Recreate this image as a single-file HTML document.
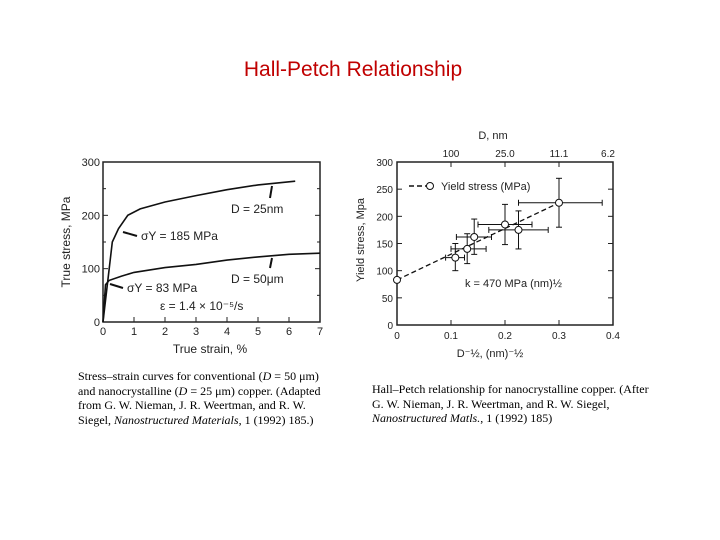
<!DOCTYPE html>
<html><head><meta charset="utf-8"><style>
body{margin:0;width:720px;height:540px;background:#fff;overflow:hidden;position:relative;font-family:"Liberation Sans",sans-serif}
.t{position:absolute;color:#000}
.cap{position:absolute;font-family:"Liberation Serif",serif;font-size:12px;line-height:14.5px;color:#000;white-space:nowrap}
svg{position:absolute;left:0;top:0}
svg text{font-family:"Liberation Sans",sans-serif;fill:#222}
</style></head><body>
<div class="t" style="left:0;width:706px;text-align:center;top:58px;font-size:21px;color:#c00000">Hall-Petch Relationship</div>
<div class="cap" style="left:78px;top:369px">Stress–strain curves for conventional (<i>D</i> = 50 μm)<br>and nanocrystalline (<i>D</i> = 25 μm) copper. (Adapted<br>from G. W. Nieman, J. R. Weertman, and R. W.<br>Siegel, <i>Nanostructured Materials</i>, 1 (1992) 185.)</div>
<div class="cap" style="left:372px;top:382px">Hall–Petch relationship for nanocrystalline copper. (After<br>G. W. Nieman, J. R. Weertman, and R. W. Siegel,<br><i>Nanostructured Matls.</i>, 1 (1992) 185)</div>
<svg width="720" height="540" id="s"></svg>
<script>
// left chart data
const strainTicks=[0,1,2,3,4,5,6,7];
const stressTicks=[0,100,200,300];
const nanoStrain=[0,0.3,0.5,0.8,1.2,2,3,4,5,6.2];
const nanoStress=[0,150,175,200,212,225,237,248,257,264];
const coarseStrain=[0,0.08,0.2,0.6,1,2,3,4,5,6,7];
const coarseStress=[0,70,78,86,93,102,108,116,122,127,129];
// right chart data
const invRootD=[0,0.108,0.13,0.143,0.2,0.225,0.3];
const yieldStress=[83,124,140,162,185,175,225];
const yErrLo=[83,100,113,130,148,140,180];
const yErrHi=[83,150,168,195,222,210,270];
const xErrLo=[0,0.09,0.1,0.11,0.15,0.17,0.225];
const xErrHi=[0,0.125,0.165,0.175,0.25,0.28,0.38];
const xTicksR=[0,0.1,0.2,0.3,0.4];
const xTickLabelsR=["0","0.1","0.2","0.3","0.4"];
const yTicksR=[0,50,100,150,200,250,300];
const topTicks=[0.1,0.2,0.3,0.4];
const topLabels=["100","25.0","11.1","6.2"];
const fitX=[0,0.3],fitY=[83,225];

const s=document.getElementById('s');const NS='http://www.w3.org/2000/svg';
function el(t,a,name,txt){const e=document.createElementNS(NS,t);for(const k in a)e.setAttribute(k,a[k]);


if(txt!==undefined)e.textContent=txt;s.appendChild(e);return e;}
// left axes
const L={x0:103,x1:320,y0:322,y1:162};
const lx=v=>L.x0+v/7*(L.x1-L.x0), ly=v=>L.y0-v/300*(L.y0-L.y1);
el('rect',{x:L.x0,y:L.y1,width:L.x1-L.x0,height:L.y0-L.y1,fill:'none',stroke:'#222','stroke-width':1.5},'left-plot-frame');
strainTicks.forEach(v=>{el('line',{x1:lx(v),x2:lx(v),y1:L.y0,y2:L.y0-5,stroke:'#222'},'x-tick');el('text',{x:lx(v),y:L.y0+13,'font-size':11,'text-anchor':'middle'},'x-tick-label',v);});
stressTicks.forEach(v=>{el('line',{x1:L.x0,x2:L.x0+5,y1:ly(v),y2:ly(v),stroke:'#222'},'y-tick');el('line',{x1:L.x1,x2:L.x1-5,y1:ly(v),y2:ly(v),stroke:'#222'},'y-tick');el('text',{x:L.x0-3,y:ly(v)+4,'font-size':11,'text-anchor':'end'},'y-tick-label',v);});
[50,150,250].forEach(v=>{el('line',{x1:L.x0,x2:L.x0+3,y1:ly(v),y2:ly(v),stroke:'#222'},'y-minor-tick');el('line',{x1:L.x1,x2:L.x1-3,y1:ly(v),y2:ly(v),stroke:'#222'},'y-minor-tick');});
el('text',{x:210,y:353,'font-size':12,'text-anchor':'middle'},'x-axis-title','True strain, %');
el('text',{x:70,y:242,'font-size':12,'text-anchor':'middle',transform:'rotate(-90 70 242)'},'y-axis-title','True stress, MPa');
const path=(xs,ys,fx,fy)=>xs.map((v,i)=>(i?'L':'M')+fx(v).toFixed(1)+' '+fy(ys[i]).toFixed(1)).join(' ');
el('path',{d:path(nanoStrain,nanoStress,lx,ly),fill:'none',stroke:'#111','stroke-width':1.6},'curve-d-25nm');
el('path',{d:path(coarseStrain,coarseStress,lx,ly),fill:'none',stroke:'#111','stroke-width':1.6},'curve-d-50um');
el('text',{x:231,y:213,'font-size':12},'label-d-25nm','D = 25nm');
el('text',{x:231,y:283,'font-size':12},'label-d-50um','D = 50μm');
el('text',{x:141,y:240,'font-size':12},'label-yield-185','σY = 185 MPa');
el('text',{x:127,y:292,'font-size':12},'label-yield-83','σY =  83 MPa');
el('text',{x:160,y:310,'font-size':12},'label-strain-rate','ε = 1.4 × 10⁻⁵/s');
[[272,186,270,198],[272,258,270,268],[123,232,137,236],[110,284,123,288]].forEach(a=>el('line',{x1:a[0],y1:a[1],x2:a[2],y2:a[3],stroke:'#111','stroke-width':2},'pointer-arrow'));
// right axes
const R={x0:397,x1:613,y0:325,y1:162};
const rx=v=>R.x0+v/0.4*(R.x1-R.x0), ry=v=>R.y0-v/300*(R.y0-R.y1);
el('rect',{x:R.x0,y:R.y1,width:R.x1-R.x0,height:R.y0-R.y1,fill:'none',stroke:'#222','stroke-width':1.5},'right-plot-frame');
xTicksR.forEach((v,i)=>{el('line',{x1:rx(v),x2:rx(v),y1:R.y0,y2:R.y0-5,stroke:'#222'},'x-tick');el('text',{x:rx(v),y:R.y0+14,'font-size':10,'text-anchor':'middle'},'x-tick-label',xTickLabelsR[i]);});
yTicksR.forEach(v=>{el('line',{x1:R.x0,x2:R.x0+5,y1:ry(v),y2:ry(v),stroke:'#222'},'y-tick');el('line',{x1:R.x1,x2:R.x1-5,y1:ry(v),y2:ry(v),stroke:'#222'},'y-tick');el('text',{x:R.x0-4,y:ry(v)+4,'font-size':10,'text-anchor':'end'},'y-tick-label',v);});
topTicks.forEach((v,i)=>{el('line',{x1:rx(v),x2:rx(v),y1:R.y1,y2:R.y1+5,stroke:'#222'},'top-tick');el('text',{x:rx(v)-(i==3?5:0),y:R.y1-5,'font-size':10,'text-anchor':'middle'},'top-tick-label',topLabels[i]);});
el('text',{x:493,y:139,'font-size':11,'text-anchor':'middle'},'top-axis-title','D, nm');
el('text',{x:490,y:357,'font-size':11,'text-anchor':'middle'},'x-axis-title','D⁻½, (nm)⁻½');
el('text',{x:364,y:240,'font-size':11,'text-anchor':'middle',transform:'rotate(-90 364 240)'},'y-axis-title','Yield stress, Mpa');
el('path',{d:path(fitX,fitY,rx,ry),fill:'none',stroke:'#111','stroke-width':1.3,'stroke-dasharray':'5 3'},'fit-line');
invRootD.forEach((v,i)=>{if(i){el('line',{x1:rx(xErrLo[i]),x2:rx(xErrHi[i]),y1:ry(yieldStress[i]),y2:ry(yieldStress[i]),stroke:'#111'},'x-error-bar');
el('line',{x1:rx(v),x2:rx(v),y1:ry(yErrLo[i]),y2:ry(yErrHi[i]),stroke:'#111'},'y-error-bar');
[xErrLo[i],xErrHi[i]].forEach(e=>el('line',{x1:rx(e),x2:rx(e),y1:ry(yieldStress[i])-3,y2:ry(yieldStress[i])+3,stroke:'#111'},'error-cap'));
[yErrLo[i],yErrHi[i]].forEach(e=>el('line',{x1:rx(v)-3,x2:rx(v)+3,y1:ry(e),y2:ry(e),stroke:'#111'},'error-cap'));}
el('circle',{cx:rx(v),cy:ry(yieldStress[i]),r:3.5,fill:'#fff',stroke:'#111'},'data-point');});
el('line',{x1:409,x2:428,y1:186,y2:186,stroke:'#111','stroke-width':1.5,'stroke-dasharray':'5 3'},'legend-line');
el('circle',{cx:430,cy:186,r:3.5,fill:'#fff',stroke:'#111'},'legend-marker');
el('text',{x:441,y:190,'font-size':11},'legend-label','Yield stress (MPa)');
el('text',{x:465,y:287,'font-size':11},'label-k','k = 470 MPa (nm)½');
</script>
</body></html>
